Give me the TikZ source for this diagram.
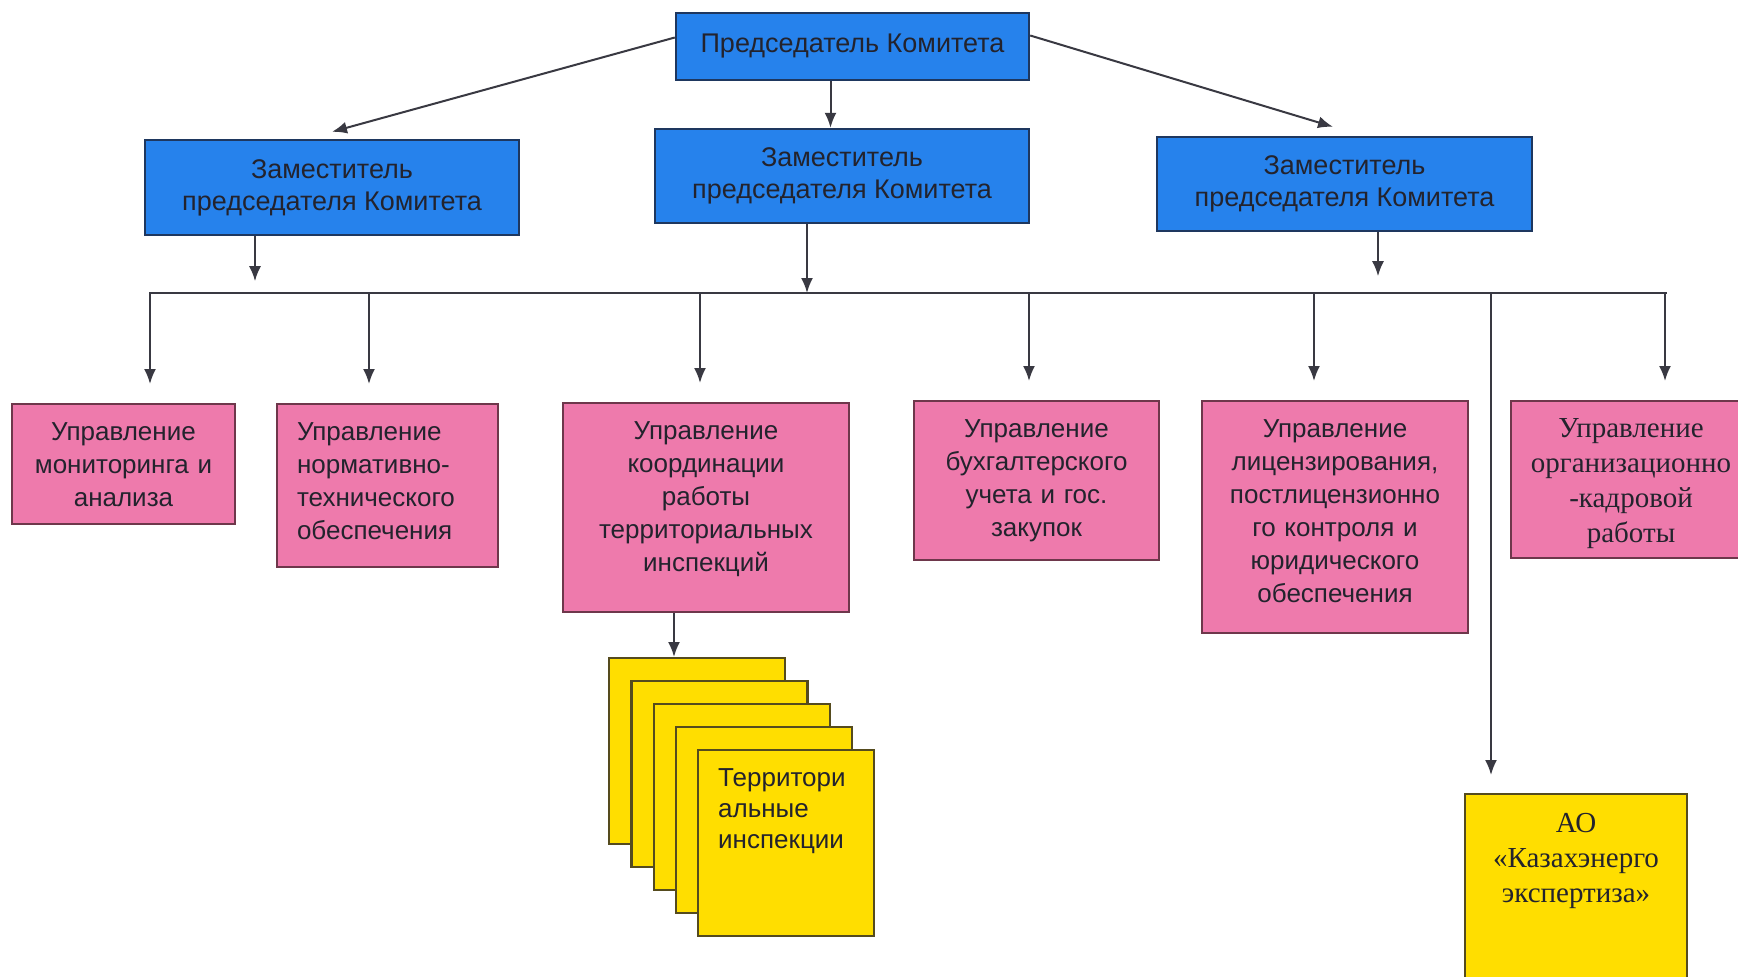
\documentclass[tikz,border=0pt]{standalone}
\usepackage{fontspec}
\setmainfont{Liberation Sans}
\newfontfamily\timesfont{Liberation Serif}
\usetikzlibrary{arrows.meta}
\definecolor{chiefblue}{RGB}{38,130,236}
\definecolor{chiefline}{RGB}{30,55,95}
\definecolor{deptpink}{RGB}{238,122,172}
\definecolor{deptline}{RGB}{110,55,75}
\definecolor{cardyellow}{RGB}{255,222,0}
\definecolor{cardline}{RGB}{85,75,30}
\definecolor{ink}{RGB}{35,35,45}
\tikzset{
	chief/.style={draw=chiefline, fill=chiefblue, line width=1.2pt, text=ink, align=center, inner sep=0pt, font=\fontsize{13.5}{16}\selectfont},
	dept/.style 2 args={draw=deptline, fill=deptpink, line width=1.2pt, text=ink, align=center, anchor=north, inner xsep=4pt, inner ysep=0pt, text width=#1, text height=18pt, text depth=#2, font=\fontsize{13}{16.5}\selectfont},
	card/.style={draw=cardline, fill=cardyellow, line width=1.2pt, minimum width=88pt, minimum height=93pt, inner sep=0pt, anchor=north west},
	arr/.style={draw=ink!90, line width=1pt, -{Latex[length=7.5pt,width=6pt]}},
	wire/.style={draw=ink!90, line width=1pt}
}

\begin{document}
\begin{tikzpicture}[x=0.5pt, y=-0.5pt]
		%%%%% START %%%%%
		
		\useasboundingbox (0,0) rectangle (1738,976);
		\fill[white] (0,0) rectangle (1738,976);
		\clip (0,0) rectangle (1738,976);
		
		\node[chief, minimum width=176.5pt, minimum height=33.5pt] (pred) at (852.5,46.5) {Председатель Комитета};
		
		\node[chief, minimum width=187pt, minimum height=47.5pt] (zamL) at (332,187.5) {Заместитель\\председателя Комитета};
		\node[chief, minimum width=187pt, minimum height=47pt] (zamC) at (842,176) {Заместитель\\председателя Комитета};
		\node[chief, minimum width=187.5pt, minimum height=47pt] (zamR) at (1344.5,184) {Заместитель\\председателя Комитета};
		
		\draw[arr] ([yshift=4.5pt]pred.west) -- ([yshift=3.5pt]zamL.north);
		\draw[arr] ([xshift=-11pt]pred.south) -- ([xshift=-11pt]pred.south |- zamC.north);
		\draw[arr] ([yshift=5.5pt]pred.east) -- ([xshift=-5.75pt,yshift=4.5pt]zamR.north);
		
		\coordinate (busL) at (149,293);
		\coordinate (busR) at (1667,293);
		\draw[wire] (busL) -- (busR);
		
		\draw[arr] ([xshift=-38.5pt]zamL.south) -- ++(0,45);
		\draw[arr] ([xshift=-17.5pt]zamC.south) -- ([xshift=-17.5pt]zamC.south |- busL);
		\draw[arr] ([xshift=16.75pt]zamR.south) -- ++(0,44);
		
		\node[dept={103.5pt}{42pt}] (d1) at (123.5,403) {Управление\\мониторинга и\\анализа};
		\node[dept={90.5pt}{63.5pt}, align=left, inner xsep=10pt] (d2) at (387.5,403) {Управление\\нормативно-\\технического\\обеспечения};
		\node[dept={135pt}{86.5pt}] (d3) at (706,402) {Управление\\координации\\работы\\территориальных\\инспекций};
		\node[dept={114.5pt}{61.5pt}] (d4) at (1036.5,400) {Управление\\бухгалтерского\\учета и гос.\\закупок};
		\node[dept={125pt}{98pt}] (d5) at (1335,400) {Управление\\лицензирования,\\постлицензионно\\го контроля и\\юридического\\обеспечения};
		\node[dept={112pt}{60.5pt}, font=\timesfont\fontsize{14.5}{17.5}\selectfont] (d6) at (1631,400) {Управление\\организационно\\-кадровой\\работы};
		
		\foreach \x/\t in {150/d1, 369/d2, 700/d3, 1029/d4, 1314/d5, 1665/d6}
			\draw[arr, shorten >=9.5pt] (\x,0 |- busL) -- (\x,0 |- \t.north);
		
		\foreach \i in {0,...,3}
			\node[card] (card\i) at (608+22.25*\i, 657+23*\i) {};
		\node[card, text=ink, align=left, inner xsep=10pt, inner ysep=0pt, text width=68pt, text height=18pt, text depth=75pt, font=\fontsize{13}{15.5}\selectfont] (card4) at (697,749) {Территори\\альные\\инспекции};
		\draw[arr] (674,0 |- d3.south) -- (674,0 |- card0.north);
		
		\node[dept={103pt}{84.5pt}, fill=cardyellow, draw=cardline, text height=19pt, font=\timesfont\fontsize{14.5}{17.5}\selectfont] (ao) at (1576,793) {АО\\«Казахэнерго\\экспертиза»};
		\draw[arr, shorten >=9pt] (1491,0 |- busL) -- (1491,0 |- ao.north);
		
		%%%%% END %%%%%
	\end{tikzpicture}
\end{document}
